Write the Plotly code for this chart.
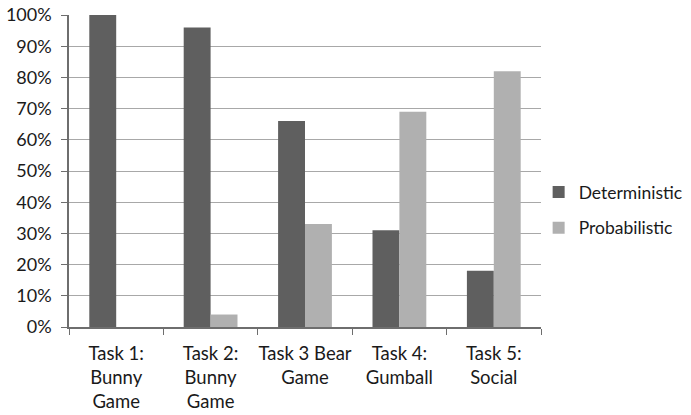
import plotly.graph_objects as go

# Share of children choosing each strategy, per task
tasks = [
    "Task 1:<br>Bunny<br>Game",
    "Task 2:<br>Bunny<br>Game",
    "Task 3 Bear<br>Game",
    "Task 4:<br>Gumball",
    "Task 5:<br>Social",
]
deterministic = [1.00, 0.96, 0.66, 0.31, 0.18]
probabilistic = [0.00, 0.04, 0.33, 0.69, 0.82]

font_family = "Lato, 'Open Sans', sans-serif"

fig = go.Figure()
fig.add_trace(go.Bar(
    name="Deterministic", x=tasks, y=deterministic, legendgroup="det",
    marker=dict(color="#5f5f5f", line=dict(width=0)),
))
fig.add_trace(go.Bar(
    name="Probabilistic", x=tasks, y=probabilistic, legendgroup="prob",
    marker=dict(color="#b0b0b0", line=dict(width=0)),
))

fig.update_layout(
    width=691, height=415,
    margin=dict(l=69, r=150, t=15, b=88, autoexpand=False),
    paper_bgcolor="white", plot_bgcolor="white",
    barmode="group", bargap=0.43, bargroupgap=0,
    font=dict(family=font_family, size=17, color="#1a1a1a"),
    showlegend=True,
    legend=dict(
        x=0.995, y=0.375, xanchor="left", yanchor="middle",
        font=dict(size=17.5), traceorder="grouped", tracegroupgap=10,
        itemsizing="constant", bgcolor="rgba(0,0,0,0)",
    ),
)
fig.update_xaxes(
    type="category", tickson="boundaries", tickangle=0, automargin=False,
    showline=True, linecolor="#6e6e6e", linewidth=1.5,
    ticks="outside", ticklen=6, tickcolor="#6e6e6e", ticklabelstandoff=9,
    showgrid=False, tickfont=dict(size=18.5),
)
fig.update_yaxes(
    range=[0, 1.0], dtick=0.1, tickformat=".0%", automargin=False,
    showline=True, linecolor="#6e6e6e", linewidth=1.5,
    ticks="outside", ticklen=6, tickcolor="#6e6e6e", ticklabelstandoff=6,
    showgrid=True, gridcolor="#a8a8a8", gridwidth=1,
    zeroline=False, tickfont=dict(size=18),
)

fig.write_html("out.html")
